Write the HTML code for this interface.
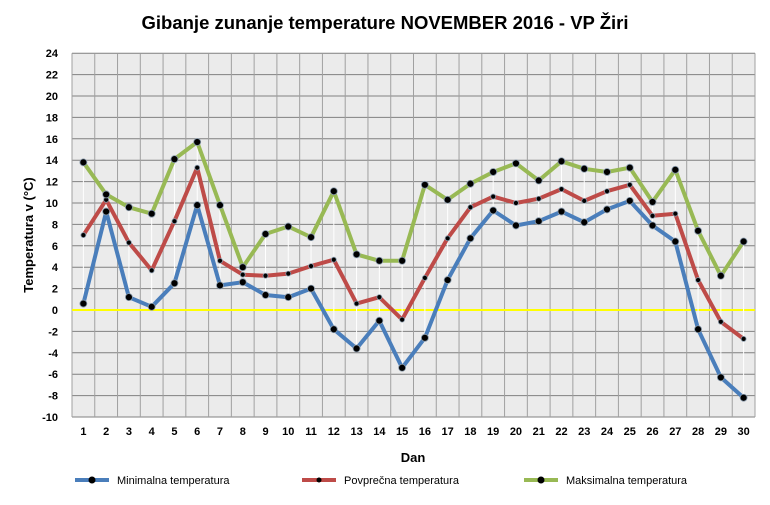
<!DOCTYPE html>
<html><head><meta charset="utf-8"><style>
html,body{margin:0;padding:0;background:#fff;width:770px;height:505px;overflow:hidden}
svg{display:block;font-family:"Liberation Sans",sans-serif}
</style></head><body>
<svg id="s" width="770" height="505" xmlns="http://www.w3.org/2000/svg">
<rect width="770" height="505" fill="#fff"/>
<text x="385" y="29" text-anchor="middle" font-size="18.5" font-weight="bold" fill="#000">Gibanje zunanje temperature NOVEMBER 2016 - VP Žiri</text>
<text transform="translate(33,235) rotate(-90)" text-anchor="middle" font-size="13" font-weight="bold">Temperatura v (°C)</text>
<text x="413" y="462" text-anchor="middle" font-size="13" font-weight="bold">Dan</text>
<g id="g"></g>
<g font-size="11" fill="#000">
<line x1="75" y1="480" x2="109" y2="480" stroke="#4a7ebb" stroke-width="4"/><circle cx="92" cy="480" r="3.5" fill="#000"/>
<text x="117" y="484">Minimalna temperatura</text>
<line x1="302" y1="480" x2="336" y2="480" stroke="#be4b48" stroke-width="4"/><circle cx="319" cy="480" r="2.5" fill="#000"/>
<text x="344" y="484">Povprečna temperatura</text>
<line x1="524" y1="480" x2="558" y2="480" stroke="#98b954" stroke-width="4"/><circle cx="541" cy="480" r="3.5" fill="#000"/>
<text x="566" y="484">Maksimalna temperatura</text>
</g>
</svg>
<script>
var mn=[0.6,9.2,1.2,0.3,2.5,9.8,2.3,2.6,1.4,1.2,2.0,-1.8,-3.6,-1.0,-5.4,-2.6,2.8,6.7,9.3,7.9,8.3,9.2,8.2,9.4,10.2,7.9,6.4,-1.8,-6.3,-8.2];
var av=[7.0,10.3,6.3,3.7,8.3,13.3,4.6,3.3,3.2,3.4,4.1,4.7,0.6,1.2,-0.9,3.0,6.7,9.6,10.6,10.0,10.4,11.3,10.2,11.1,11.7,8.8,9.0,2.8,-1.1,-2.7];
var mx=[13.8,10.8,9.6,9.0,14.1,15.7,9.8,4.0,7.1,7.8,6.8,11.1,5.2,4.6,4.6,11.7,10.3,11.8,12.9,13.7,12.1,13.9,13.2,12.9,13.3,10.1,13.1,7.4,3.2,6.4];
var L=72,R=755,W=(R-L)/30;
function X(i){return L+W*(i+0.5)}
function Y(v){return 310-v*10.7}
var h='<rect x="'+L+'" y="'+Y(24)+'" width="'+(R-L)+'" height="'+(Y(-10)-Y(24))+'" fill="#ebebeb"/>';
for(var v=-10;v<=24;v+=2){h+='<line x1="'+L+'" x2="'+R+'" y1="'+Y(v)+'" y2="'+Y(v)+'" stroke="#808080" stroke-width="1"/>';
h+='<text x="'+(L-14)+'" y="'+(Y(v)+4)+'" text-anchor="end" font-size="11" font-weight="bold">'+v+'</text>';}
for(var i=0;i<=30;i++){var x=L+W*i;h+='<line x1="'+x+'" x2="'+x+'" y1="'+Y(24)+'" y2="'+Y(-10)+'" stroke="#a0a0a0" stroke-width="1"/>';}
for(var i=0;i<30;i++)h+='<text x="'+X(i)+'" y="'+(Y(-10)+18)+'" text-anchor="middle" font-size="11" font-weight="bold">'+(i+1)+'</text>';
h+='<line x1="'+L+'" x2="'+R+'" y1="310" y2="310" stroke="#ffff00" stroke-width="2"/>';
for(var i=0;i<30;i++)h+='<line x1="'+X(i)+'" x2="'+X(i)+'" y1="'+Y(mx[i])+'" y2="'+Y(mn[i])+'" stroke="#fff" stroke-width="1"/>';
function ser(d,c,r){var p=d.map(function(v,i){return X(i).toFixed(1)+','+Y(v).toFixed(1)}).join(' ');
var s='<polyline points="'+p+'" fill="none" stroke="'+c+'" stroke-width="4" stroke-linejoin="round"/>';
d.forEach(function(v,i){s+='<circle cx="'+X(i)+'" cy="'+Y(v)+'" r="'+r+'" fill="#000" stroke="#8899aa" stroke-width="0.8"/>'});return s;}
h+=ser(mn,'#4a7ebb',3.5)+ser(av,'#be4b48',2.5)+ser(mx,'#98b954',3.5);
document.getElementById('g').innerHTML=h;
</script>
</body></html>
